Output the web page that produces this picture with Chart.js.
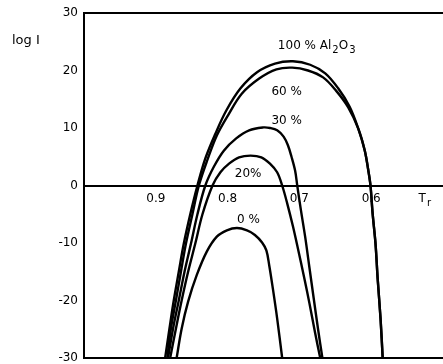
<!DOCTYPE html>
<html>
<head>
<meta charset="utf-8">
<script src="https://cdn.jsdelivr.net/npm/chart.js@4"></script>
<style>
  html, body { margin: 0; padding: 0; background: #fff; overflow: hidden; }
  #wrap { width: 443px; height: 364px; }
</style>
</head>
<body>
<div id="wrap"><canvas id="chart" width="443" height="364"></canvas></div>
<script>
/* ---- data (Tr on x, log I on y) ---- */
const tr100   = [0.887, 0.881, 0.875, 0.868, 0.861, 0.852, 0.842, 0.831, 0.817, 0.802, 0.782, 0.759, 0.734, 0.709, 0.685, 0.664, 0.646, 0.630, 0.618, 0.609, 0.604, 0.601, 0.598, 0.594, 0.591, 0.587, 0.584];
const logI100 = [-30, -24.9, -20, -15, -10.1, -5, 0, 4.7, 9.0, 13.0, 16.9, 19.7, 21.2, 21.6, 21.0, 19.5, 16.9, 13.7, 9.9, 6.1, 2.6, 0, -4.9, -10.1, -16.2, -23.1, -30];

const tr60   = [0.884, 0.879, 0.872, 0.865, 0.858, 0.849, 0.840, 0.828, 0.815, 0.799, 0.780, 0.756, 0.732, 0.710, 0.688, 0.667, 0.649, 0.632, 0.618, 0.609, 0.604, 0.601, 0.598, 0.594, 0.591, 0.587, 0.584];
const logI60 = [-30, -24.9, -20, -15, -10.1, -5, 0, 4.5, 8.7, 12.3, 16.0, 18.6, 20.2, 20.5, 20.0, 18.8, 16.5, 13.6, 9.9, 6.1, 2.6, 0, -4.9, -10.1, -16.2, -23.1, -30];

const tr30   = [0.883, 0.876, 0.868, 0.860, 0.851, 0.842, 0.831, 0.819, 0.805, 0.788, 0.770, 0.750, 0.741, 0.731, 0.722, 0.716, 0.711, 0.706, 0.703, 0.698, 0.692, 0.686, 0.680, 0.674, 0.668];
const logI30 = [-30, -24.9, -20, -15, -10.1, -5, 0, 3.3, 6.1, 8.2, 9.6, 10.1, 10.0, 9.6, 8.5, 7.0, 5.0, 2.6, 0, -4.2, -8.9, -14.3, -19.7, -25.0, -30];

const tr20   = [0.880, 0.872, 0.864, 0.855, 0.845, 0.835, 0.821, 0.810, 0.798, 0.784, 0.768, 0.753, 0.741, 0.731, 0.724, 0.717, 0.709, 0.702, 0.693, 0.686, 0.678, 0.671];
const logI20 = [-30, -24.9, -20, -15, -10.1, -5, 0, 2.3, 3.8, 4.9, 5.2, 4.9, 3.8, 2.3, 0, -3.1, -7.1, -11.0, -16.2, -20.5, -25.7, -30];

const tr0   = [0.871, 0.864, 0.855, 0.843, 0.829, 0.815, 0.801, 0.787, 0.773, 0.762, 0.752, 0.746, 0.742, 0.737, 0.731, 0.724];
const logI0 = [-30, -24.9, -20.2, -15.6, -11.5, -8.9, -7.8, -7.4, -7.8, -8.6, -9.9, -11.3, -13.9, -17.9, -23.1, -30];

const yTicks = [-30, -20, -10, 0, 10, 20, 30];
const xTicks = [0.9, 0.8, 0.7, 0.6];

// curve labels: [segments, Tr, logI]  (segment flag 1 = subscript)
const curveLabels = [
  [[["100 % Al", 0], ["2", 1], ["O", 0], ["3", 1]], 0.730, 24.3],
  [[["60 %", 0]], 0.739, 16.2],
  [[["30 %", 0]], 0.739, 11.3],
  [[["20%", 0]], 0.790, 2.0],
  [[["0 %", 0]], 0.787, -5.9],
  [[["T", 0], ["r", 1]], 0.534, -2.3]
];

function zip(xs, ys) {
  return xs.map((x, i) => ({ x: x, y: ys[i] }));
}

function curve(xs, ys) {
  return {
    data: zip(xs, ys),
    borderColor: "#000",
    borderWidth: 2.4,
    pointRadius: 0,
    fill: false,
    tension: 0.35,
    showLine: true
  };
}

const FONT = '12px "DejaVu Sans", sans-serif';
const SUBFONT = '10px "DejaVu Sans", sans-serif';

// draws the text labels inside the plot + "log I"
const labelPlugin = {
  id: "labels",
  afterDraw(chart) {
    const ctx = chart.ctx;
    const xs = chart.scales.x, ys = chart.scales.y;
    ctx.save();
    ctx.fillStyle = "#000";
    ctx.textBaseline = "middle";
    ctx.textAlign = "left";
    curveLabels.forEach(([segs, tr, li]) => {
      let px = xs.getPixelForValue(tr);
      const py = ys.getPixelForValue(li);
      segs.forEach(([t, sub]) => {
        ctx.font = sub ? SUBFONT : FONT;
        ctx.fillText(t, px, sub ? py + 5 : py);
        px += ctx.measureText(t).width + (sub ? 0 : 1);
      });
    });
    ctx.font = '13px "DejaVu Sans", sans-serif';
    ctx.fillText("log I", 12, ys.getPixelForValue(25.2));
    ctx.restore();
  }
};

new Chart(document.getElementById("chart"), {
  type: "scatter",
  data: {
    datasets: [
      curve(tr100, logI100),
      curve(tr60, logI60),
      curve(tr30, logI30),
      curve(tr20, logI20),
      curve(tr0, logI0)
    ]
  },
  options: {
    responsive: false,
    animation: false,
    layout: { padding: { top: 13, bottom: 6, left: 0, right: 0 } },
    plugins: { legend: { display: false }, tooltip: { enabled: false } },
    scales: {
      x: {
        type: "linear",
        reverse: true,
        min: 0.5,
        max: 1.0,
        position: { y: 0 },
        border: { display: true, color: "#000", width: 2 },
        grid: { drawOnChartArea: false, drawTicks: true, tickLength: 7, tickColor: "rgba(0,0,0,0)" },
        ticks: {
          stepSize: 0.1,
          color: "#000",
          font: { family: "DejaVu Sans", size: 12, lineHeight: 1 },
          padding: 0,
          maxRotation: 0,
          callback: (v) => {
            const r = Math.round(v * 10) / 10;
            return xTicks.includes(r) ? r.toFixed(1) : "";
          }
        }
      },
      y: {
        min: -30,
        max: 30,
        afterFit: (s) => { s.width = 84; },
        afterBuildTicks: (s) => { s.ticks = yTicks.map((v) => ({ value: v })); },
        border: { display: true, color: "#000", width: 2 },
        grid: {
          drawTicks: true,
          tickLength: 6,
          tickColor: "rgba(0,0,0,0)",
          lineWidth: 2,
          color: (c) => (c.tick && Math.abs(c.tick.value) === 30 ? "#000" : "rgba(0,0,0,0)")
        },
        ticks: {
          color: "#000",
          font: { family: "DejaVu Sans", size: 12, lineHeight: 1 },
          padding: 0,
          callback: (v) => String(v)
        }
      }
    }
  },
  plugins: [labelPlugin]
});
</script>
</body>
</html>
